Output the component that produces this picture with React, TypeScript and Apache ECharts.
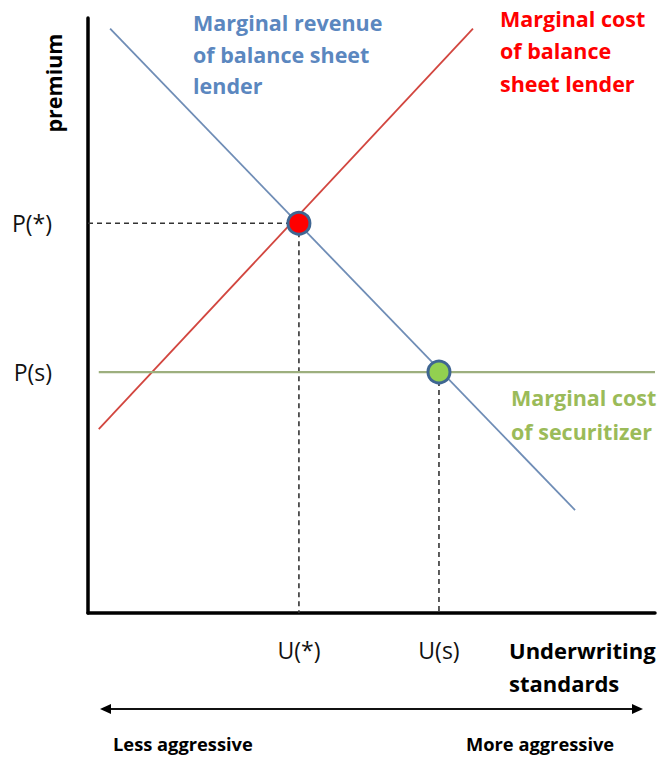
import React, { useEffect, useRef } from "react";
import * as echarts from "echarts";

// Curves (x: underwriting standards 0..100, y: premium 0..100)
const marginalRevenueLender = [[3.9, 98.2], [85.9, 17.3]];
const marginalCostLender = [[1.9, 30.9], [67.9, 98.2]];
const marginalCostSecuritizer = [[1.9, 40.5], [100, 40.5]];

// Equilibria
const uStar = 37.2;
const pStar = 65.5;
const uS = 61.9;
const pS = 40.5;

const xTickValues = [uStar, uS];
const xTickLabels = ["U(*)", "U(s)"];
const yTickValues = [pStar, pS];
const yTickLabels = ["P(*)", "P(s)"];

const FONT = "'Open Sans', 'Noto Sans', sans-serif";

export default function App() {
  const ref = useRef<HTMLDivElement>(null);
  useEffect(() => {
    const chart = echarts.init(ref.current!, null, { renderer: "svg" });
    const dashed = { color: "#333", width: 1.6, type: [5, 4] as any };
    const arrowY = 709;
    const arrowL = 100;
    const arrowR = 643;
    chart.setOption({
      animation: false,
      grid: { left: 88, top: 18, width: 567, height: 595 },
      xAxis: {
        type: "value",
        min: 0,
        max: 100,
        axisLine: { show: true, lineStyle: { color: "#000", width: 3.5 } },
        axisTick: { show: false },
        splitLine: { show: false },
        axisLabel: {
          customValues: xTickValues,
          formatter: (v: number) => {
            const i = xTickValues.findIndex((t) => Math.abs(t - v) < 0.01);
            return i >= 0 ? xTickLabels[i] : "";
          },
          color: "#111",
          fontSize: 23,
          fontFamily: FONT,
          margin: 25,
        },
      },
      yAxis: {
        type: "value",
        min: 0,
        max: 100,
        axisLine: { show: true, lineStyle: { color: "#000", width: 3.5 } },
        axisTick: { show: false },
        splitLine: { show: false },
        axisLabel: {
          customValues: yTickValues,
          formatter: (v: number) => {
            const i = yTickValues.findIndex((t) => Math.abs(t - v) < 0.01);
            return i >= 0 ? yTickLabels[i] : "";
          },
          color: "#111",
          fontSize: 23,
          fontFamily: FONT,
          margin: 36,
        },
      },
      series: [
        {
          type: "line",
          data: [[0, pStar], [uStar, pStar]],
          symbol: "none",
          lineStyle: dashed,
          silent: true,
        },
        {
          type: "line",
          data: [[uStar, pStar], [uStar, 0]],
          symbol: "none",
          lineStyle: dashed,
          silent: true,
        },
        {
          type: "line",
          data: [[uS, pS], [uS, 0]],
          symbol: "none",
          lineStyle: dashed,
          silent: true,
        },
        {
          type: "line",
          data: marginalRevenueLender,
          symbol: "none",
          lineStyle: { color: "#6F8DB6", width: 1.8 },
        },
        {
          type: "line",
          data: marginalCostLender,
          symbol: "none",
          lineStyle: { color: "#D2463F", width: 1.8 },
        },
        {
          type: "line",
          data: marginalCostSecuritizer,
          symbol: "none",
          lineStyle: { color: "#9DAF7E", width: 2.2 },
        },
        {
          type: "scatter",
          data: [[uStar, pStar]],
          symbolSize: 22,
          itemStyle: { color: "#FF0000", borderColor: "#3F6692", borderWidth: 3, opacity: 1 },
          z: 5,
        },
        {
          type: "scatter",
          data: [[uS, pS]],
          symbolSize: 22,
          itemStyle: { color: "#92D050", borderColor: "#3F6692", borderWidth: 3, opacity: 1 },
          z: 5,
        },
      ],
      graphic: [
        {
          type: "text",
          x: 53,
          y: 83,
          rotation: Math.PI / 2,
          style: {
            text: "premium",
            font: `bold 21.5px ${FONT}`,
            fill: "#000",
            align: "center",
            verticalAlign: "middle",
          },
        },
        {
          type: "text",
          x: 193,
          y: 7,
          style: {
            text: "Marginal revenue\nof balance sheet\nlender",
            font: `bold 21.5px ${FONT}`,
            lineHeight: 31.5,
            fill: "#5B87BF",
          },
        },
        {
          type: "text",
          x: 500,
          y: 2,
          style: {
            text: "Marginal cost\nof balance\nsheet lender",
            font: `bold 21.5px ${FONT}`,
            lineHeight: 32.5,
            fill: "#FF0000",
          },
        },
        {
          type: "text",
          x: 511,
          y: 380,
          style: {
            text: "Marginal cost\nof securitizer",
            font: `bold 21.5px ${FONT}`,
            lineHeight: 34,
            fill: "#9BBB59",
          },
        },
        {
          type: "text",
          x: 509,
          y: 633,
          style: {
            text: "Underwriting\nstandards",
            font: `bold 22px ${FONT}`,
            lineHeight: 33,
            fill: "#000",
          },
        },
        {
          type: "line",
          shape: { x1: arrowL + 6, y1: arrowY, x2: arrowR - 6, y2: arrowY },
          style: { stroke: "#111", lineWidth: 2 },
        },
        {
          type: "polygon",
          shape: { points: [[arrowL, arrowY], [arrowL + 11, arrowY - 5], [arrowL + 11, arrowY + 5]] },
          style: { fill: "#000" },
        },
        {
          type: "polygon",
          shape: { points: [[arrowR, arrowY], [arrowR - 11, arrowY - 5], [arrowR - 11, arrowY + 5]] },
          style: { fill: "#000" },
        },
        {
          type: "text",
          x: 113,
          y: 743,
          style: {
            text: "Less aggressive",
            font: `bold 18.3px ${FONT}`,
            fill: "#000",
            verticalAlign: "middle",
          },
        },
        {
          type: "text",
          x: 466,
          y: 743,
          style: {
            text: "More aggressive",
            font: `bold 18.3px ${FONT}`,
            fill: "#000",
            verticalAlign: "middle",
          },
        },
      ],
    });
    return () => chart.dispose();
  }, []);
  return (
    <div
      ref={ref}
      style={{ position: "absolute", left: 0, top: 0, width: 662, height: 757 }}
    />
  );
}
